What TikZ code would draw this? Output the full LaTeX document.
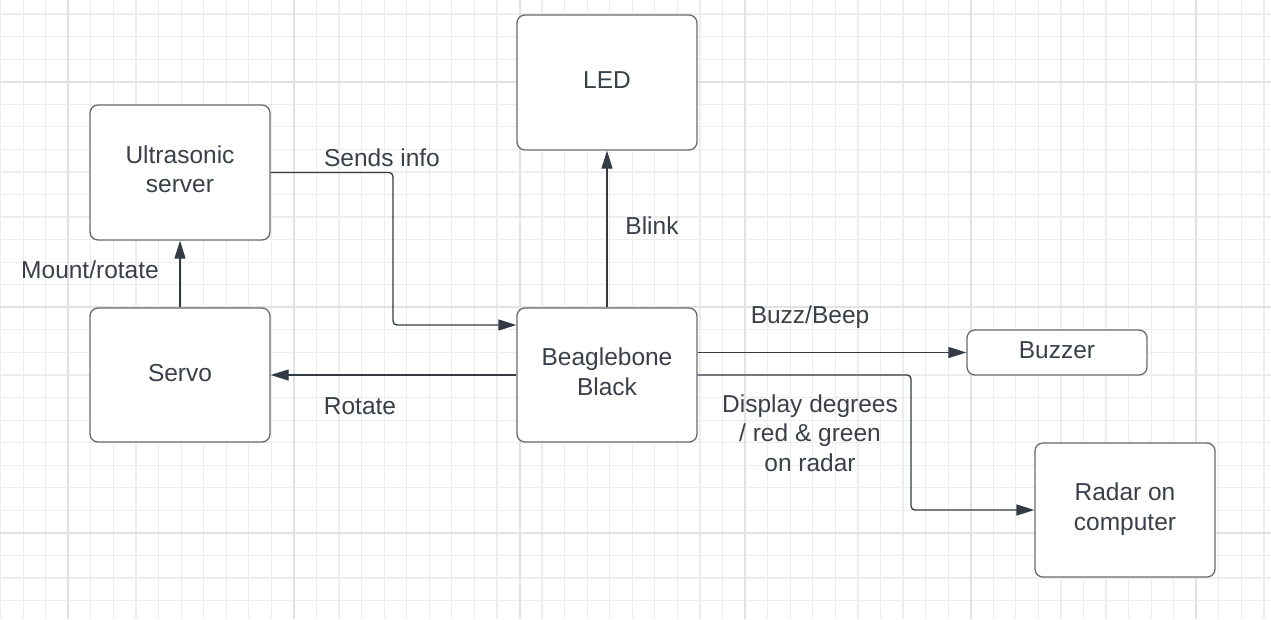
\documentclass[tikz,border=0pt]{standalone}
\usepackage{fontspec}
\setmainfont{Liberation Sans}
\usetikzlibrary{arrows.meta}
\definecolor{txt}{HTML}{3A4049}
\definecolor{edge}{HTML}{333A44}
\definecolor{boxline}{HTML}{6A6A6A}
\definecolor{gridminor}{HTML}{EDEDED}
\definecolor{gridmajor}{HTML}{E2E2E2}
\tikzset{
  block/.style={draw=boxline, line width=1.3pt, rounded corners=8pt, fill=white,
    text=txt, align=center, inner sep=0pt, minimum width=180pt, text depth=4pt,
    font=\fontsize{24.5}{29.5}\selectfont},
  conn/.style={draw=edge, line width=1.3pt, rounded corners=4pt,
    -{Triangle[length=18pt,width=11pt]}},
  lbl/.style={text=txt, align=center, inner sep=0pt,
    font=\fontsize{24.5}{29.5}\selectfont}
}
\begin{document}
\begin{tikzpicture}[x=1pt,y=-1pt]
\useasboundingbox (0,0) rectangle (1271,619);
\fill[white] (0,0) rectangle (1271,619);
% grid
\foreach \k in {-3,...,53} {
  \draw[gridminor, line width=1.2pt] ({68.3+\k*22.56},0) -- ({68.3+\k*22.56},619);
}
\foreach \k in {-3,...,24} {
  \draw[gridminor, line width=1.2pt] (0,{81.7+\k*22.56}) -- (1271,{81.7+\k*22.56});
}
\foreach \m in {0,...,5} {
  \draw[gridmajor, line width=2pt] ({68.3+\m*225.6},0) -- ({68.3+\m*225.6},619);
}
\foreach \m in {0,...,2} {
  \draw[gridmajor, line width=2pt] (0,{81.7+\m*225.6}) -- (1271,{81.7+\m*225.6});
}
% blocks
\node[block, minimum height=135pt] (led) at (607,82.5) {LED};
\node[block, minimum height=135pt, text depth=7pt] (us) at (180,172.5) {Ultrasonic\\server};
\node[block, minimum height=134pt] (servo) at (180,375) {Servo};
\node[block, minimum height=134pt, text depth=7pt] (bb) at (607,375) {Beaglebone\\Black};
\node[block, minimum height=45pt, text depth=5pt] (buzzer) at (1057,352.5) {Buzzer};
\node[block, minimum height=134pt, text depth=7pt] (radar) at (1125,510) {Radar on\\computer};
% connectors
\draw[conn] (servo.north) -- (us.south);
\draw[conn] (us.east) -- (393,172.5) -- (393,325) -- (bb.west |- 0,325);
\draw[conn] (bb.north) -- (led.south);
\draw[conn] (bb.west |- 0,375) -- (servo.east |- 0,375);
\draw[conn] (bb.east |- buzzer.west) -- (buzzer.west);
\draw[conn] (bb.east |- 0,375) -- (911,375) -- (911,510) -- (radar.west);
% labels
\node[lbl] (lmount) at (90,270) {Mount/rotate};
\node[lbl] (lsends) at (382,158) {Sends info};
\node[lbl] (lblink) at (652,226) {Blink};
\node[lbl] (lrot) at (360,406) {Rotate};
\node[lbl] (lbuzz) at (810,317) {Buzz/Beep};
\node[lbl] (ldisp) at (810,433) {Display degrees\\/ red \& green\\on radar};
\end{tikzpicture}
\end{document}
